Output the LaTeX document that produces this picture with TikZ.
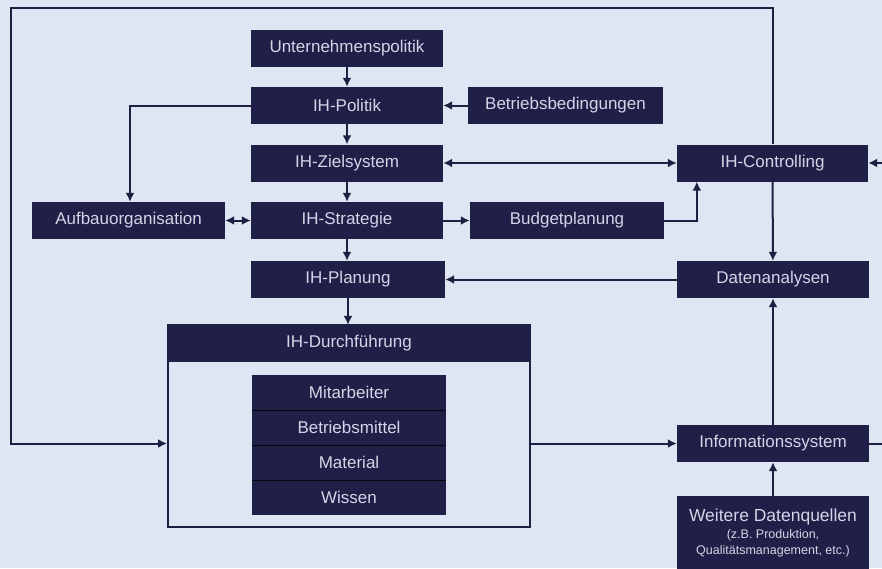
\documentclass[tikz,border=0pt]{standalone}
\usepackage{fontspec}
\setmainfont{Liberation Sans}
\usetikzlibrary{arrows.meta}
\definecolor{bgc}{HTML}{DDE6F2}
\definecolor{boxc}{HTML}{1F1F47}
\definecolor{txtc}{HTML}{D2D6E6}
\definecolor{linec}{HTML}{1E2042}
\begin{document}
\begin{tikzpicture}[x=1pt,y=-1pt,
  box/.style={fill=boxc,text=txtc,minimum width=192pt,minimum height=37pt,inner sep=0pt,
    font=\fontsize{17}{19}\selectfont},
  row/.style={fill=boxc,text=txtc,minimum width=194pt,minimum height=35pt,inner sep=0pt,
    font=\fontsize{17}{19}\selectfont},
  wtxt/.style={text=txtc,inner sep=0pt},
  conn/.style={draw=linec,line width=2pt},
  arr/.style={conn,-{Latex[length=9pt,width=9pt]}},
  darr/.style={conn,{Latex[length=9pt,width=9pt]}-{Latex[length=9pt,width=9pt]}}]
\fill[bgc] (0,0) rectangle (882,568);
\useasboundingbox (0,0) rectangle (882,568);

\node[box] (up) at (347,48) {Unternehmenspolitik};
\node[box] (pol) at (347,105.5) {IH-Politik};
\node[box] (ziel) at (347,163) {IH-Zielsystem};
\node[box] (strat) at (347,220.5) {IH-Strategie};
\node[box,minimum width=194pt] (plan) at (348,279.5) {IH-Planung};
\node[box,minimum width=193pt] (aufb) at (128.5,220.5) {Aufbauorganisation};
\node[box,minimum width=195pt] (betr) at (565.5,105.5) {Betriebsbedingungen};
\node[box,minimum width=194pt] (budg) at (567,220.5) {Budgetplanung};
\node[box,minimum width=191pt] (ctrl) at (772.5,163) {IH-Controlling};
\node[box] (dat) at (773,279.5) {Datenanalysen};
\node[box] (info) at (773,443.5) {Informationssystem};
\node[box,minimum height=80pt,anchor=north] (weit) at (773,496) {};
\node[wtxt,font=\fontsize{17.5}{19}\selectfont] (weit1) at (773,517) {Weitere Datenquellen};
\node[wtxt,font=\fontsize{12.5}{14}\selectfont] (weit2) at (773,535) {(z.B. Produktion,};
\node[wtxt,font=\fontsize{12.5}{14}\selectfont] (weit3) at (773,551) {Qualitätsmanagement, etc.)};

% IH-Durchfuehrung
\node[draw=linec,line width=2pt,minimum width=362pt,minimum height=202pt,inner sep=0pt] (dbox) at (349,426) {};
\node[box,minimum width=362pt] (dh) at (349,343.5) {IH-Durchführung};
\node[row] (r1) at (349,392.5) {Mitarbeiter};
\node[row] (r2) at (349,427.5) {Betriebsmittel};
\node[row] (r3) at (349,462.5) {Material};
\node[row] (r4) at (349,497.5) {Wissen};
\draw[black!80!boxc,line width=1pt] (r1.south west) -- (r1.south east);
\draw[black!80!boxc,line width=1pt] (r2.south west) -- (r2.south east);
\draw[black!80!boxc,line width=1pt] (r3.south west) -- (r3.south east);

% connectors
\draw[arr] (up) -- (pol);
\draw[arr] (pol) -- (ziel);
\draw[arr] (ziel) -- (strat);
\draw[arr] (strat.south) -- (strat.south |- plan.north);
\draw[arr] (plan.south) -- (plan.south |- dh.north);
\draw[arr] (betr) -- (pol);
\draw[arr] (pol.west) -| ([xshift=1.5pt]aufb.north);
\draw[darr] (aufb) -- (strat);
\draw[darr] (ziel) -- (ctrl);
\draw[arr] (strat) -- (budg);
\draw[arr] (budg.east) -| ([xshift=20pt]ctrl.south west);
\draw[arr] (ctrl) -- (dat);
\draw[arr] (dat) -- (plan);
\draw[arr] (info) -- (dat);
\draw[arr] (weit.north) -- (info.south);
\draw[arr] (dbox.east |- info.west) -- (info.west);

\coordinate (tl) at (11,8);
\draw[arr] (ctrl.north) |- (tl) |- (dbox.west |- info.west);

\coordinate (re1) at (883,163);
\coordinate (re2) at (883,443.5);
\draw[arr] (re1) -- (ctrl.east);
\draw[conn] (info.east) -- (re2);
\end{tikzpicture}
\end{document}
